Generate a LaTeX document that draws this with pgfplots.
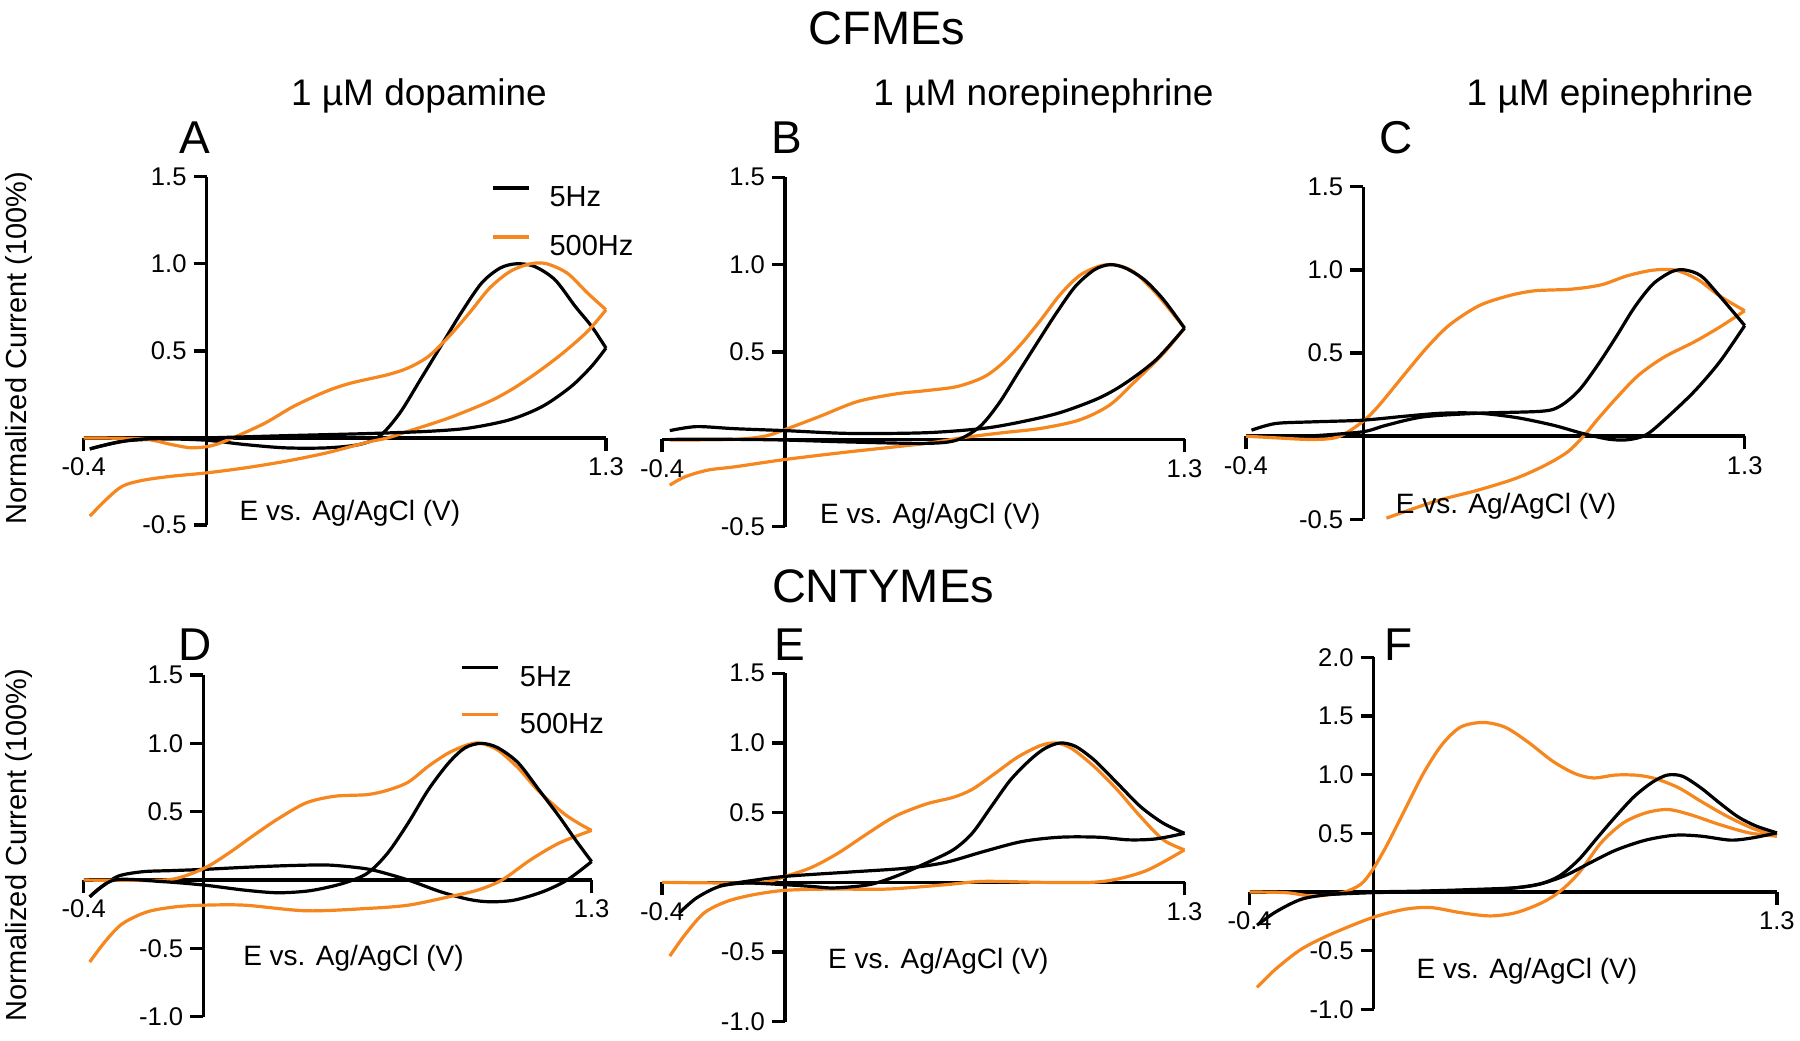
\documentclass[border=0pt]{standalone}
\usepackage{fontspec}
\setmainfont{Liberation Sans}
\usepackage{pgfplots}
\pgfplotsset{compat=1.18}
\definecolor{cvorange}{RGB}{245,135,30}
\newcommand{\fs}[1]{\fontsize{#1}{#1}\selectfont}

\pgfplotsset{
  cv/.style={scale only axis, axis lines=middle,
    axis line style={-, line width=1.7pt},
    xmin=-0.4, xmax=1.3, xtick={-0.4,1.3}, xticklabels={-0.4,1.3},
    tick style={black, line width=1.7pt}, major tick length=6.5pt,
    tick align=outside, tick label style={font=\fs{12.8}},
    clip=false, anchor=south west},
  k/.style={black, line width=1.6pt, smooth, tension=0.5},
  o/.style={cvorange, line width=1.6pt, smooth, tension=0.5},
  leg/.style={legend image code/.code={\draw[##1, line width=1.6pt] (0pt,5pt) -- (18pt,5pt);},
    legend style={draw=none, fill=none, inner sep=0pt, outer sep=0pt,
      font=\fs{14.5}, cells={anchor=west}, nodes={inner sep=0pt}}},
}
\newcommand{\xlab}{E vs. Ag/AgCl (V)}

\begin{document}
\begin{tikzpicture}
\path[use as bounding box] (0,0) rectangle (900pt,-520pt);

% titles
\node[anchor=base, font=\fs{23.5}] at (443.5pt,-22pt) {CFMEs};
\node[anchor=base, font=\fs{23.5}] at (441.5pt,-301pt) {CNTYMEs};
\node[anchor=base, font=\fs{18.5}] at (209.5pt,-52.5pt) {1 µM dopamine};
\node[anchor=base, font=\fs{18.5}] at (521.75pt,-52.5pt) {1 µM norepinephrine};
\node[anchor=base, font=\fs{18.5}] at (805pt,-52.5pt) {1 µM epinephrine};
\node[anchor=base, font=\fs{23}] at (97.5pt,-76.5pt) {A};
\node[anchor=base, font=\fs{23}] at (393.25pt,-76.5pt) {B};
\node[anchor=base, font=\fs{23}] at (698pt,-76.5pt) {C};
\node[anchor=base, font=\fs{23}] at (97.5pt,-330pt) {D};
\node[anchor=base, font=\fs{23}] at (395pt,-330pt) {E};
\node[anchor=base, font=\fs{23}] at (699.25pt,-330pt) {F};
\node[rotate=90, font=\fs{14.5}] at (9.25pt,-174pt) {Normalized Current (100\%)};
\node[rotate=90, font=\fs{14.5}] at (9.25pt,-422.5pt) {Normalized Current (100\%)};

% A: dopamine, CFME
\begin{axis}[cv, leg, at={(41.85pt,-262.5pt)}, width=261.15pt, height=174.15pt,
  ymin=-0.5, ymax=1.5, ytick={-0.5,0.5,1,1.5}, yticklabels={-0.5,0.5,1.0,1.5},
  legend style={at={(axis cs:0.928,1.444)}, anchor=north west, row sep=12.95pt, column sep=9.3pt}]
\addplot[k] coordinates {(-0.380,-0.063) (-0.274,-0.019) (-0.141,-0.006) (-0.002,-0.013) (0.125,-0.038) (0.257,-0.057) (0.390,-0.057) (0.496,-0.038) (0.563,0.010) (0.629,0.143) (0.696,0.335) (0.762,0.526) (0.828,0.717) (0.895,0.889) (0.955,0.975) (1.008,1.0) (1.067,0.985) (1.134,0.908) (1.200,0.755) (1.253,0.641) (1.300,0.516)};
\addplot[o] coordinates {(-0.4,0) (-0.207,-0.006) (-0.114,-0.038) (-0.048,-0.057) (0.018,-0.044) (0.085,0.0) (0.191,0.086) (0.284,0.182) (0.390,0.268) (0.470,0.315) (0.589,0.363) (0.656,0.402) (0.722,0.468) (0.789,0.583) (0.855,0.717) (0.921,0.860) (0.988,0.956) (1.054,1.0) (1.107,1.0) (1.174,0.946) (1.240,0.832) (1.300,0.736)};
\addplot[o, forget plot] coordinates {(-0.380,-0.449) (-0.327,-0.354) (-0.274,-0.277) (-0.207,-0.243) (-0.114,-0.220) (-0.002,-0.201) (0.125,-0.172) (0.257,-0.134) (0.390,-0.086) (0.523,-0.025) (0.589,0.0) (0.656,0.038) (0.789,0.115) (0.921,0.210) (1.001,0.287) (1.081,0.382) (1.160,0.488) (1.240,0.612) (1.300,0.736)};
\addplot[k, forget plot] coordinates {(-0.380,-0.063) (-0.234,-0.010) (-0.002,0.0) (0.257,0.013) (0.523,0.025) (0.722,0.038) (0.855,0.057) (0.988,0.105) (1.094,0.182) (1.187,0.296) (1.253,0.411) (1.300,0.516)};
\legend{5Hz,500Hz}
\node[anchor=west, font=\fs{14}] at (axis cs:0,0) [xshift=13pt, yshift=-37.5pt] {\xlab};
\end{axis}

% B: norepinephrine, CFME
\begin{axis}[cv, at={(331.05pt,-263.35pt)}, width=261.2pt, height=174.7pt,
  ymin=-0.5, ymax=1.5, ytick={-0.5,0.5,1,1.5}, yticklabels={-0.5,0.5,1.0,1.5}]
\addplot[o] coordinates {(-0.375,-0.004) (-0.163,0) (-0.064,0.019) (0.001,0.057) (0.111,0.130) (0.235,0.216) (0.360,0.260) (0.459,0.279) (0.559,0.302) (0.646,0.356) (0.708,0.436) (0.771,0.551) (0.833,0.685) (0.895,0.828) (0.958,0.937) (1.020,0.990) (1.070,1.0) (1.132,0.962) (1.207,0.837) (1.300,0.637)};
\addplot[o] coordinates {(-0.375,-0.262) (-0.325,-0.214) (-0.251,-0.176) (-0.163,-0.157) (0.001,-0.115) (0.210,-0.071) (0.459,-0.023) (0.584,0.011) (0.708,0.038) (0.833,0.063) (0.958,0.111) (1.057,0.197) (1.144,0.340) (1.232,0.493) (1.300,0.637)};
\addplot[k] coordinates {(-0.375,0.050) (-0.288,0.073) (-0.163,0.061) (0.001,0.050) (0.210,0.034) (0.459,0.038) (0.646,0.063) (0.771,0.101) (0.895,0.153) (1.020,0.235) (1.107,0.321) (1.207,0.455) (1.300,0.637)};
\addplot[k] coordinates {(-0.375,0) (-0.163,0) (0.001,-0.004) (0.210,-0.015) (0.459,-0.023) (0.559,-0.004) (0.634,0.073) (0.696,0.206) (0.758,0.379) (0.820,0.551) (0.883,0.723) (0.945,0.876) (1.007,0.971) (1.057,1.0) (1.107,0.981) (1.169,0.914) (1.232,0.799) (1.300,0.637)};
\node[anchor=west, font=\fs{14}] at (axis cs:0,0) [xshift=14pt, yshift=-38.5pt] {\xlab};
\end{axis}

% C: epinephrine, CFME
\begin{axis}[cv, at={(622.95pt,-259.65pt)}, width=249.4pt, height=166.3pt,
  ymin=-0.5, ymax=1.5, ytick={-0.5,0.5,1,1.5}, yticklabels={-0.5,0.5,1.0,1.5}]
\addplot[o] coordinates {(-0.4,0) (-0.299,-0.010) (-0.173,-0.020) (-0.085,-0.004) (-0.003,0.086) (0.054,0.186) (0.142,0.375) (0.218,0.535) (0.294,0.669) (0.394,0.784) (0.495,0.844) (0.584,0.874) (0.710,0.884) (0.811,0.910) (0.899,0.964) (0.987,0.998) (1.063,0.998) (1.138,0.944) (1.214,0.844) (1.300,0.754)};
\addplot[o] coordinates {(0.079,-0.493) (0.243,-0.393) (0.394,-0.323) (0.521,-0.253) (0.621,-0.174) (0.697,-0.094) (0.754,0.006) (0.798,0.100) (0.861,0.226) (0.937,0.365) (1.025,0.475) (1.126,0.565) (1.214,0.655) (1.300,0.754)};
\addplot[k] coordinates {(-0.381,0.036) (-0.299,0.076) (-0.173,0.086) (-0.003,0.096) (0.142,0.120) (0.268,0.138) (0.394,0.138) (0.521,0.112) (0.647,0.066) (0.748,0.016) (0.836,-0.018) (0.899,-0.022) (0.962,0.006) (1.025,0.096) (1.126,0.265) (1.214,0.445) (1.300,0.665)};
\addplot[k] coordinates {(-0.173,0.002) (-0.003,0.026) (0.079,0.066) (0.205,0.116) (0.394,0.138) (0.609,0.150) (0.672,0.182) (0.735,0.275) (0.798,0.425) (0.861,0.595) (0.924,0.774) (0.987,0.914) (1.050,0.988) (1.094,1.0) (1.151,0.964) (1.214,0.844) (1.300,0.665)};
\node[anchor=west, font=\fs{14}] at (axis cs:0,0) [xshift=12.75pt, yshift=-35pt] {\xlab};
\end{axis}

% D: dopamine, CNTYME
\begin{axis}[cv, leg, at={(41.85pt,-508.35pt)}, width=253.95pt, height=170.85pt,
  ymin=-1, ymax=1.5, ytick={-1,-0.5,0.5,1,1.5}, yticklabels={-1.0,-0.5,0.5,1.0,1.5},
  legend style={at={(axis cs:0.862,1.566)}, anchor=north west, row sep=12.1pt, column sep=10pt}]
\addplot[k] coordinates {(-0.380,-0.123) (-0.339,-0.049) (-0.284,0.029) (-0.202,0.061) (-0.106,0.069) (0.003,0.078) (0.139,0.093) (0.276,0.105) (0.412,0.110) (0.508,0.093) (0.576,0.069) (0.686,0.0) (0.795,-0.086) (0.890,-0.142) (0.959,-0.159) (1.041,-0.147) (1.136,-0.086) (1.218,0.0) (1.300,0.135)};
\addplot[o] coordinates {(-0.4,0) (-0.270,-0.002) (-0.106,0.005) (0.003,0.086) (0.085,0.196) (0.167,0.324) (0.249,0.446) (0.344,0.564) (0.440,0.613) (0.549,0.625) (0.617,0.657) (0.686,0.716) (0.754,0.833) (0.822,0.931) (0.890,0.993) (0.931,1.0) (0.986,0.951) (1.054,0.821) (1.123,0.650) (1.205,0.490) (1.259,0.412) (1.300,0.363)};
\addplot[o, forget plot] coordinates {(-0.380,-0.600) (-0.325,-0.441) (-0.270,-0.319) (-0.188,-0.233) (-0.093,-0.196) (0.003,-0.184) (0.139,-0.184) (0.344,-0.225) (0.549,-0.208) (0.686,-0.184) (0.822,-0.123) (0.918,-0.074) (1.000,0.0) (1.095,0.147) (1.191,0.270) (1.300,0.363)};
\addplot[k, forget plot] coordinates {(-0.380,-0.123) (-0.298,0) (-0.134,-0.012) (0.003,-0.037) (0.139,-0.074) (0.249,-0.093) (0.358,-0.078) (0.467,-0.025) (0.549,0.049) (0.617,0.196) (0.686,0.417) (0.754,0.662) (0.822,0.858) (0.877,0.968) (0.931,1.0) (0.986,0.968) (1.054,0.858) (1.123,0.662) (1.191,0.466) (1.246,0.294) (1.300,0.135)};
\legend{5Hz,500Hz}
\node[anchor=west, font=\fs{14}] at (axis cs:0,0) [xshift=16.5pt, yshift=-39pt] {\xlab};
\end{axis}

% E: norepinephrine, CNTYME
\begin{axis}[cv, at={(331.05pt,-510.85pt)}, width=261.2pt, height=174.2pt,
  ymin=-1, ymax=1.5, ytick={-1,-0.5,0.5,1,1.5}, yticklabels={-1.0,-0.5,0.5,1.0,1.5}]
\addplot[o] coordinates {(-0.4,0) (-0.163,-0.005) (-0.064,0) (0.001,0.043) (0.086,0.107) (0.173,0.210) (0.273,0.357) (0.360,0.476) (0.459,0.562) (0.547,0.610) (0.609,0.667) (0.683,0.781) (0.758,0.900) (0.833,0.983) (0.883,1.0) (0.933,0.960) (1.007,0.829) (1.082,0.662) (1.157,0.471) (1.231,0.305) (1.300,0.233)};
\addplot[o] coordinates {(-0.375,-0.529) (-0.325,-0.374) (-0.263,-0.219) (-0.188,-0.136) (-0.101,-0.088) (0.001,-0.057) (0.148,-0.048) (0.335,-0.048) (0.522,-0.017) (0.646,0.007) (0.833,0) (0.995,0) (1.082,0.024) (1.182,0.090) (1.300,0.233)};
\addplot[k] coordinates {(-0.344,-0.219) (-0.288,-0.112) (-0.213,-0.029) (-0.126,-0.005) (0.001,-0.017) (0.086,-0.029) (0.160,-0.040) (0.273,-0.017) (0.360,0.043) (0.459,0.138) (0.547,0.233) (0.609,0.352) (0.671,0.543) (0.733,0.733) (0.796,0.876) (0.845,0.960) (0.895,1.0) (0.945,0.976) (1.007,0.876) (1.082,0.710) (1.157,0.543) (1.231,0.424) (1.300,0.352)};
\addplot[k] coordinates {(-0.213,-0.024) (-0.126,0.007) (0.001,0.043) (0.210,0.074) (0.397,0.102) (0.522,0.143) (0.646,0.221) (0.771,0.293) (0.895,0.324) (1.020,0.324) (1.119,0.305) (1.207,0.312) (1.300,0.352)};
\node[anchor=west, font=\fs{14}] at (axis cs:0,0) [xshift=18pt, yshift=-39.5pt] {\xlab};
\end{axis}

% F: epinephrine, CNTYME
\begin{axis}[cv, at={(624.8pt,-504.65pt)}, width=263.65pt, height=176pt,
  ymin=-1, ymax=2, ytick={-1,-0.5,0.5,1,1.5,2}, yticklabels={-1.0,-0.5,0.5,1.0,1.5,2.0}]
\addplot[o] coordinates {(-0.4,0) (-0.281,-0.006) (-0.197,-0.034) (-0.102,-0.006) (-0.042,0.065) (-0.004,0.187) (0.041,0.391) (0.101,0.703) (0.161,1.014) (0.220,1.255) (0.280,1.405) (0.352,1.445) (0.423,1.405) (0.495,1.283) (0.578,1.113) (0.650,1.008) (0.709,0.972) (0.781,0.997) (0.853,0.994) (0.912,0.963) (0.984,0.887) (1.055,0.773) (1.139,0.646) (1.223,0.541) (1.300,0.476)};
\addplot[o] coordinates {(-0.376,-0.813) (-0.316,-0.657) (-0.233,-0.487) (-0.138,-0.360) (-0.004,-0.218) (0.101,-0.147) (0.185,-0.133) (0.280,-0.176) (0.375,-0.204) (0.459,-0.176) (0.543,-0.091) (0.602,0.008) (0.662,0.164) (0.733,0.419) (0.805,0.589) (0.877,0.674) (0.948,0.703) (1.020,0.660) (1.115,0.575) (1.210,0.504) (1.300,0.476)};
\addplot[k] coordinates {(-0.376,-0.283) (-0.316,-0.170) (-0.233,-0.062) (-0.138,-0.020) (-0.004,0) (0.161,0.008) (0.340,0.023) (0.459,0.037) (0.543,0.074) (0.602,0.142) (0.662,0.278) (0.721,0.462) (0.781,0.646) (0.841,0.816) (0.900,0.938) (0.948,0.997) (0.996,0.986) (1.055,0.887) (1.115,0.759) (1.175,0.640) (1.234,0.561) (1.300,0.504)};
\addplot[k] coordinates {(-0.138,-0.020) (-0.004,-0.006) (0.220,0.008) (0.399,0.023) (0.519,0.057) (0.614,0.136) (0.698,0.249) (0.781,0.357) (0.877,0.442) (0.972,0.484) (1.055,0.476) (1.151,0.442) (1.223,0.462) (1.300,0.504)};
\node[anchor=west, font=\fs{14}] at (axis cs:0,0) [xshift=18pt, yshift=-39.5pt] {\xlab};
\end{axis}
\end{tikzpicture}
\end{document}
